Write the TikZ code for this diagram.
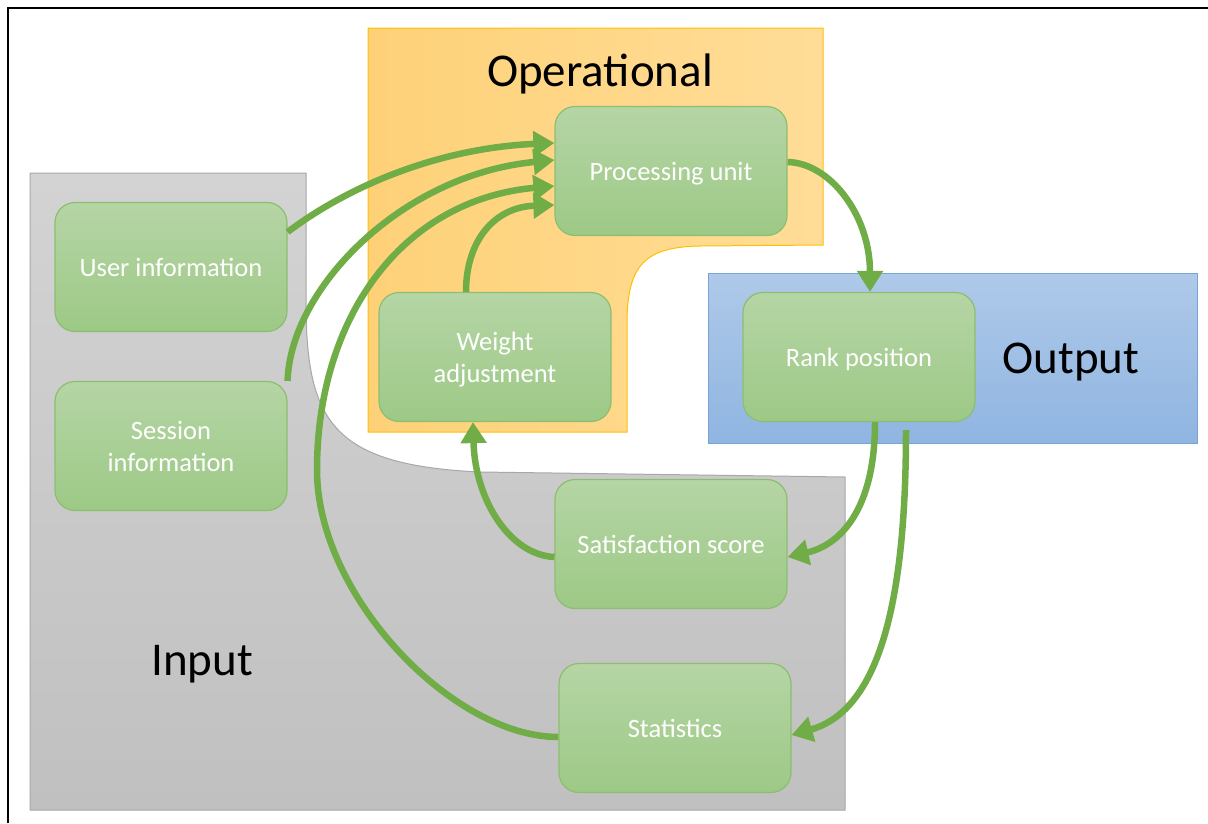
\documentclass[tikz,border=0pt]{standalone}
\usepackage{fontspec}
\setmainfont{Carlito}
\usetikzlibrary{arrows.meta,calc}

\definecolor{flowgreen}{RGB}{112,173,71}
\definecolor{boxtop}{RGB}{181,213,165}
\definecolor{boxbot}{RGB}{157,201,134}
\definecolor{boxedge}{RGB}{141,190,112}
\definecolor{inputtop}{RGB}{211,211,211}
\definecolor{inputbot}{RGB}{192,192,192}
\definecolor{inputedge}{RGB}{168,168,168}
\definecolor{opleft}{RGB}{254,209,120}
\definecolor{opright}{RGB}{255,221,152}
\definecolor{opedge}{RGB}{255,192,0}
\definecolor{outtop}{RGB}{175,201,233}
\definecolor{outbot}{RGB}{143,181,225}
\definecolor{outedge}{RGB}{122,162,212}

\begin{document}
\begin{tikzpicture}[x=1pt,y=-1pt,
  box/.style={draw=boxedge, line width=1.2pt, rounded corners=20pt,
    top color=boxtop, bottom color=boxbot,
    minimum width=232pt, minimum height=129pt, inner sep=0pt, text depth=0pt,
    text=white, align=center, font=\fontsize{26.5}{32}\selectfont},
  title/.style={text=black, inner sep=0pt, text depth=0pt, font=\fontsize{47}{50}\selectfont},
  flow/.style={draw=flowgreen, line width=6.5pt, -{Triangle[length=21pt,width=25pt]}}]
\useasboundingbox (0,0) rectangle (1208,823);

% outer frame
\draw[black, line width=2.5pt] (8,823) -- (8,8) -- (1208,8);

% input area
\path[draw=inputedge, line width=1pt, top color=inputtop, bottom color=inputbot]
  (30,173) -- (306,173) -- (306,300)
  .. controls (306,420) and (330,465) .. (480,472)
  -- (845,477) -- (845,810) -- (30,810) -- cycle;

% operational area
\path[draw=opedge, line width=1pt, left color=opleft, right color=opright]
  (368,28) -- (823,28) -- (823,245) -- (700,246)
  .. controls (645,247) and (628,265) .. (627,320)
  -- (627,432) -- (368,432) -- cycle;

% output area
\path[draw=outedge, line width=1pt, top color=outtop, bottom color=outbot]
  (708,273) rectangle (1197,443);

% area titles
\node[title] (optitle) at (600,70) {Operational};
\node[title] (outtitle) at (1071,358) {Output};
\node[title] (intitle) at (202,660) {Input};

% units
\node[box] (user) at (171,267) {User information};
\node[box] (session) at (171,446) {Session\\information};
\node[box] (proc) at (671,171) {Processing unit};
\node[box] (weight) at (495,357) {Weight\\adjustment};
\node[box] (rank) at (859,357) {Rank position};
\node[box] (sat) at (671,544) {Satisfaction score};
\node[box] (stats) at (675,728) {Statistics};

% flows into the processing unit
\draw[flow] ([yshift=35pt]user.east)
  .. controls (350,185) and (440,148) .. ([yshift=28pt]proc.west);
\draw[flow] (session.north east)
  .. controls (290,290) and (400,175) .. ([yshift=11pt]proc.west);
\draw[flow] ([yshift=-9pt]stats.west)
  .. controls (452,737) and (317,595) .. (317,470)
  .. controls (317,320) and (400,200) .. ([yshift=-15pt]proc.west);
\draw[flow] ([xshift=-29pt]weight.north)
  .. controls (466,240) and (495,207) .. ([yshift=-34pt]proc.west);

% processing to ranking and feedback
\draw[flow] ([yshift=9pt]proc.east)
  .. controls (830,163) and (870,215) .. ([xshift=11pt]rank.north);
\draw[flow] ([xshift=16pt]rank.south)
  .. controls (875,510) and (840,545) .. ([yshift=-13pt]sat.east);
\draw[flow] ([xshift=47pt,yshift=-8pt]rank.south)
  .. controls (906,600) and (880,710) .. ([yshift=-7pt]stats.east);
\draw[flow] ([yshift=-13pt]sat.west)
  .. controls (510,555) and (475,500) .. ([xshift=-22pt]weight.south);
\end{tikzpicture}
\end{document}
